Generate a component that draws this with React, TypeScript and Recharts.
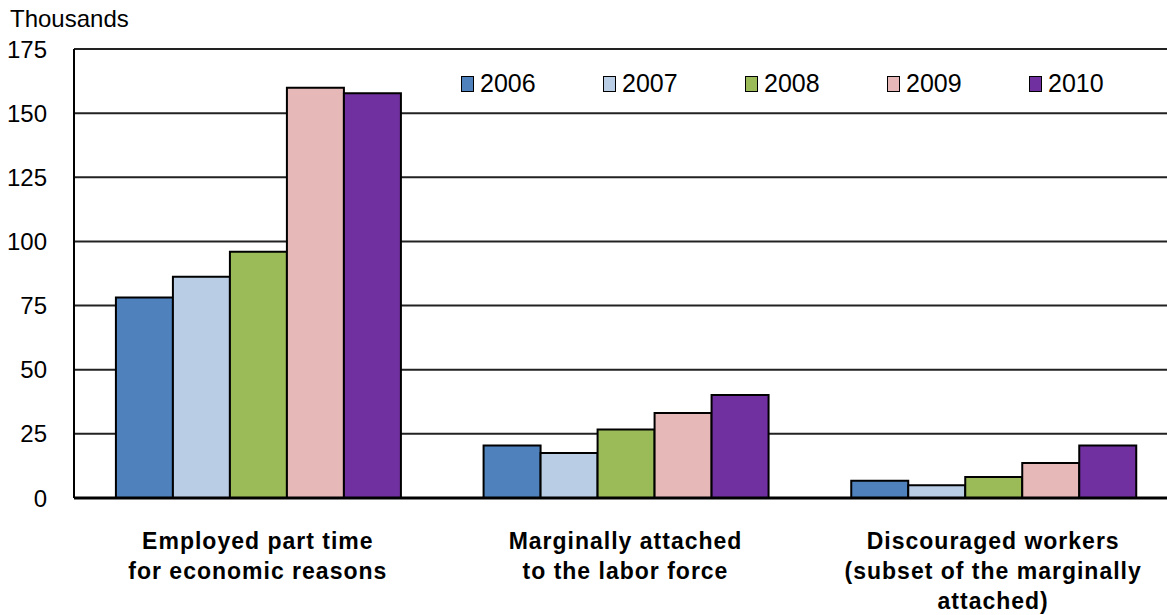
import { Bar, BarChart, CartesianGrid, XAxis, YAxis } from 'recharts';

const categories = [
  ['Employed part time', 'for economic reasons'],
  ['Marginally attached', 'to the labor force'],
  ['Discouraged workers', '(subset of the marginally', 'attached)'],
];

const years = ['2006', '2007', '2008', '2009', '2010'];
const colours = ['#4F81BD', '#B9CDE5', '#9BBB59', '#E6B9B8', '#7030A0'];

const v2006 = [78.1, 20.5, 6.7];
const v2007 = [86.2, 17.5, 5.0];
const v2008 = [96.0, 26.7, 8.2];
const v2009 = [159.9, 33.1, 13.6];
const v2010 = [157.8, 40.1, 20.5];

const yTicks = [0, 25, 50, 75, 100, 125, 150, 175];

const series = [v2006, v2007, v2008, v2009, v2010];
const data = categories.map((lines, i) => {
  const row: Record<string, unknown> = { name: lines.join(' ') };
  years.forEach((y, j) => {
    row[y] = series[j][i];
  });
  return row;
});

const font = '"Liberation Sans", Arial, sans-serif';

function CategoryTick(props: any) {
  const { x, y, index } = props;
  const lines = categories[index] ?? [];
  return (
    <text
      x={x}
      y={y}
      textAnchor="middle"
      fontFamily={font}
      fontWeight="bold"
      fontSize={23}
      letterSpacing={1}
      fill="#000"
    >
      {lines.map((l, i) => (
        <tspan key={i} x={x} y={y + 51 + i * 30}>
          {l}
        </tspan>
      ))}
    </text>
  );
}

function YearLegend() {
  return (
    <div
      style={{
        position: 'absolute',
        left: 461,
        top: 69,
        display: 'flex',
        fontFamily: font,
        fontSize: 25,
        color: '#000',
      }}
    >
      {years.map((y, i) => (
        <div key={y} style={{ width: 142, display: 'flex', alignItems: 'center' }}>
          <span
            style={{
              display: 'inline-block',
              width: 11,
              height: 14,
              background: colours[i],
              border: '1.5px solid #000',
              marginRight: 6,
            }}
          />
          <span>{y}</span>
        </div>
      ))}
    </div>
  );
}

export default function App() {
  return (
    <div
      style={{
        position: 'absolute',
        left: 0,
        top: 0,
        width: 1167,
        height: 615,
        overflow: 'hidden',
        background: '#fff',
      }}
    >
      <div
        style={{
          position: 'absolute',
          left: 10,
          top: 5,
          fontFamily: font,
          fontSize: 24,
          color: '#000',
        }}
      >
        Thousands
      </div>
      <BarChart
        width={1177}
        height={615}
        data={data}
        margin={{ top: 49, right: 0, bottom: 0, left: 0 }}
        barCategoryGap="11.4%"
        barGap={0}
      >
        <CartesianGrid vertical={false} stroke="#222" strokeWidth={2} />
        <XAxis
          dataKey="name"
          height={117}
          tickLine={false}
          tickSize={0}
          tickMargin={0}
          axisLine={{ stroke: '#000', strokeWidth: 3 }}
          tick={<CategoryTick />}
          interval={0}
        />
        <YAxis
          width={74}
          domain={[0, 175]}
          ticks={yTicks}
          tickLine={false}
          tickSize={0}
          tickMargin={27}
          axisLine={{ stroke: '#000', strokeWidth: 2 }}
          tick={{ fill: '#000', fontSize: 24, fontFamily: font }}
          interval={0}
        />
        {years.map((y, i) => (
          <Bar
            key={y}
            dataKey={y}
            fill={colours[i]}
            stroke="#000"
            strokeWidth={2}
            isAnimationActive={false}
          />
        ))}
      </BarChart>
      <YearLegend />
    </div>
  );
}
